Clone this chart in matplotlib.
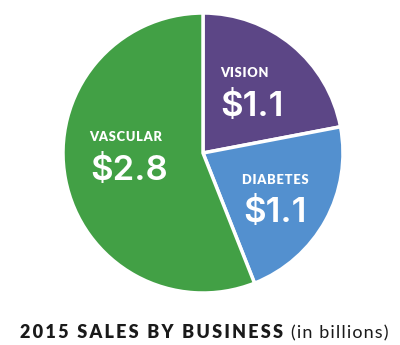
import matplotlib.pyplot as plt

# sales by business, 2015, in billions of dollars
segments = ['VISION', 'DIABETES', 'VASCULAR']
sales = [1.1, 1.1, 2.8]
colors = ['#5c4686', '#5390cf', '#42a045']

# label anchors inside each wedge (pie radius = 1)
label_pos = [(0.12, 0.57), (0.28, -0.19), (-0.81, 0.115)]

fig = plt.figure(figsize=(4.0, 3.45), dpi=100)
ax = fig.add_axes([0.1575, 0.1507, 0.70, 0.8116])

ax.pie(sales, colors=colors, startangle=90, counterclock=False, radius=1,
       wedgeprops=dict(edgecolor='white', linewidth=2.5))
ax.set_xlim(-1, 1)
ax.set_ylim(-1, 1)
ax.set_aspect('equal')
ax.axis('off')

hair = '\u200a'
for name, val, (x, y) in zip(segments, sales, label_pos):
    ax.text(x, y, hair.join(name), color='white', fontsize=9.3,
            fontweight='heavy', family=['Lato', 'DejaVu Sans'],
            ha='left', va='center')
    ax.text(x + 0.005, y - 0.24, '$%.1f' % val, color='white', fontsize=25,
            fontweight='semibold', family='Inter', ha='left', va='center')

thin = '\u2009'
title = thin.join('2015 SALES BY BUSINESS')
fig.text(0.05, 0.035, title, fontsize=13, fontweight='heavy',
         family=['Lato', 'DejaVu Sans'], color='#1a1a1a', ha='left', va='center')
fig.text(0.728, 0.035, hair.join('(in billions)'), fontsize=13,
         family=['Lato', 'DejaVu Sans'], color='#1a1a1a', ha='left', va='center')

fig.savefig('out.png', dpi=100)
